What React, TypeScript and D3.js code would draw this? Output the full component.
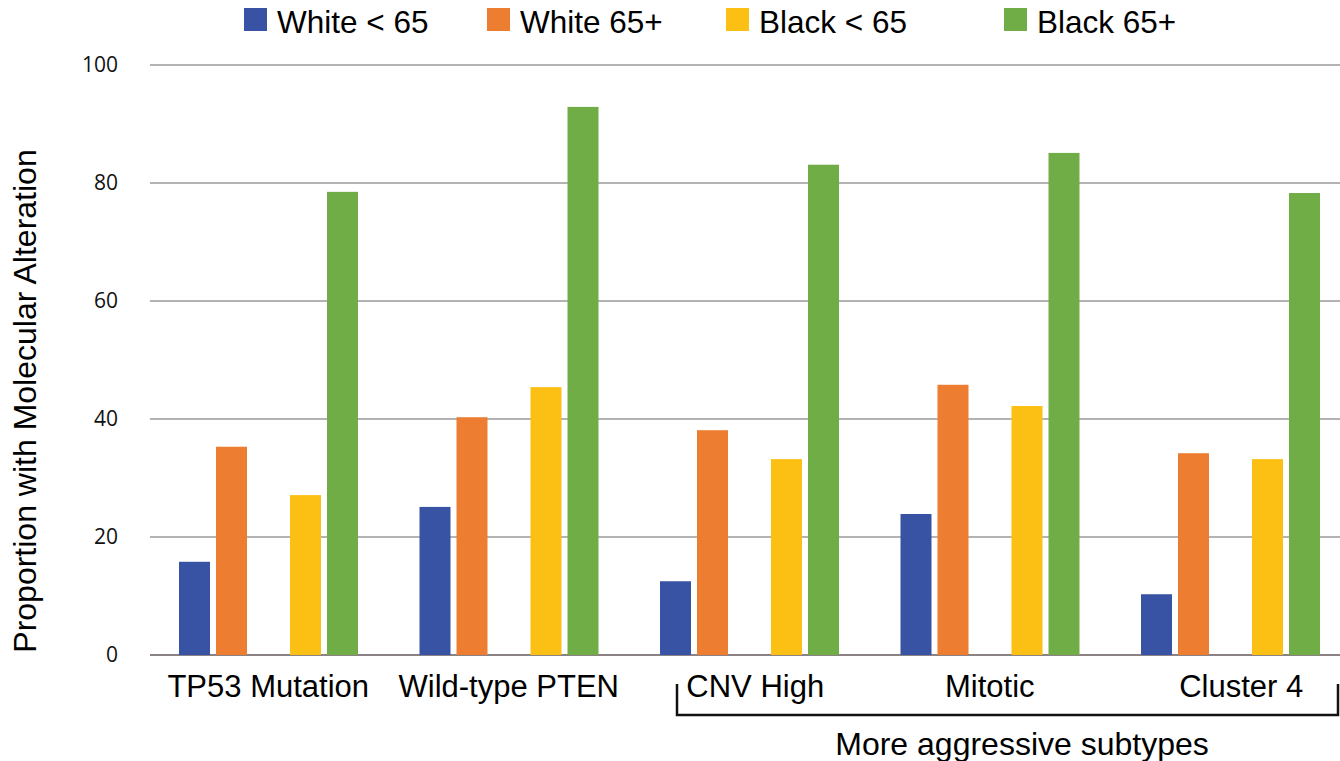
import React from "react";
import * as d3 from "d3";

const categories = ["TP53 Mutation", "Wild-type PTEN", "CNV High", "Mitotic", "Cluster 4"];
const seriesNames = ["White < 65", "White 65+", "Black < 65", "Black 65+"];
const white65Under = [15.8, 25.1, 12.5, 23.9, 10.3];
const white65Plus = [35.3, 40.3, 38.1, 45.8, 34.2];
const black65Under = [27.1, 45.4, 33.2, 42.2, 33.2];
const black65Plus = [78.5, 92.9, 83.1, 85.1, 78.3];
const yTicks = [0, 20, 40, 60, 80, 100];
const bracketLabel = "More aggressive subtypes";

const colors = ["#3953A4", "#ED7D31", "#FCBF14", "#70AD47"];
const labelDx = [0, 0, 6, 0, 11];
const legendX = [244, 487, 726, 1004];

export default function App() {
  const W = 1340, H = 761;
  const series = [white65Under, white65Plus, black65Under, black65Plus];
  const y = d3.scaleLinear().domain([0, 100]).range([655, 65]);
  const x0 = d3.scaleBand<string>().domain(categories).range([148, 1350.5]);
  // 5 slots per group, middle one empty
  const slots = [0, 1, 3, 4];
  const x1 = d3.scaleBand<number>().domain([0, 1, 2, 3, 4]).range([31, 210]).paddingInner(6 / 37).paddingOuter(0);
  const bw = x1.bandwidth();
  const sans = "'Liberation Sans', Arial, sans-serif";
  const tickFont = "'Open Sans', sans-serif";

  const bLeft = 677;
  const bRight = 1338;

  return (
    <svg width={W} height={H} style={{ display: "block", position: "absolute", left: 0, top: 0 }}>
      <rect width={W} height={H} fill="#fff" />
      {yTicks.map((t) => (
        <g key={t}>
          <line x1={150} x2={1340} y1={y(t)} y2={y(t)} stroke={t === 0 ? "#8a8284" : "#9a9a9a"} strokeWidth={t === 0 ? 2 : 1.5} />
          <text x={118} y={y(t)} dy="0.35em" textAnchor="end" fontFamily={tickFont} fontSize={21} fill="#111">{t}</text>
        </g>
      ))}
      {categories.map((c, i) => (
        <g key={c}>
          {series.map((s, k) => (
            <rect key={k} x={x0(c)! + x1(slots[k])!} y={y(s[i])} width={bw} height={y(0) - y(s[i])} fill={colors[k]} />
          ))}
          <text x={x0(c)! + x0.bandwidth() / 2 + labelDx[i]} y={697} textAnchor="middle" fontFamily={sans} fontSize={31} fill="#000">{c}</text>
        </g>
      ))}
      <text transform={`translate(36,401) rotate(-90)`} textAnchor="middle" fontFamily={sans} fontSize={32} fill="#000">Proportion with Molecular Alteration</text>
      <path d={`M${bLeft},${684}V${715}H${bRight}V${684}`} fill="none" stroke="#111" strokeWidth={2.5} />
      <text x={1022} y={755} textAnchor="middle" fontFamily={sans} fontSize={32} fill="#000">{bracketLabel}</text>
      {seriesNames.map((n, k) => (
        <g key={n}>
          <rect x={legendX[k]} y={8} width={23} height={23} fill={colors[k]} />
          <text x={legendX[k] + 33} y={33} fontFamily={sans} fontSize={31.5} fill="#000">{n}</text>
        </g>
      ))}
    </svg>
  );
}
